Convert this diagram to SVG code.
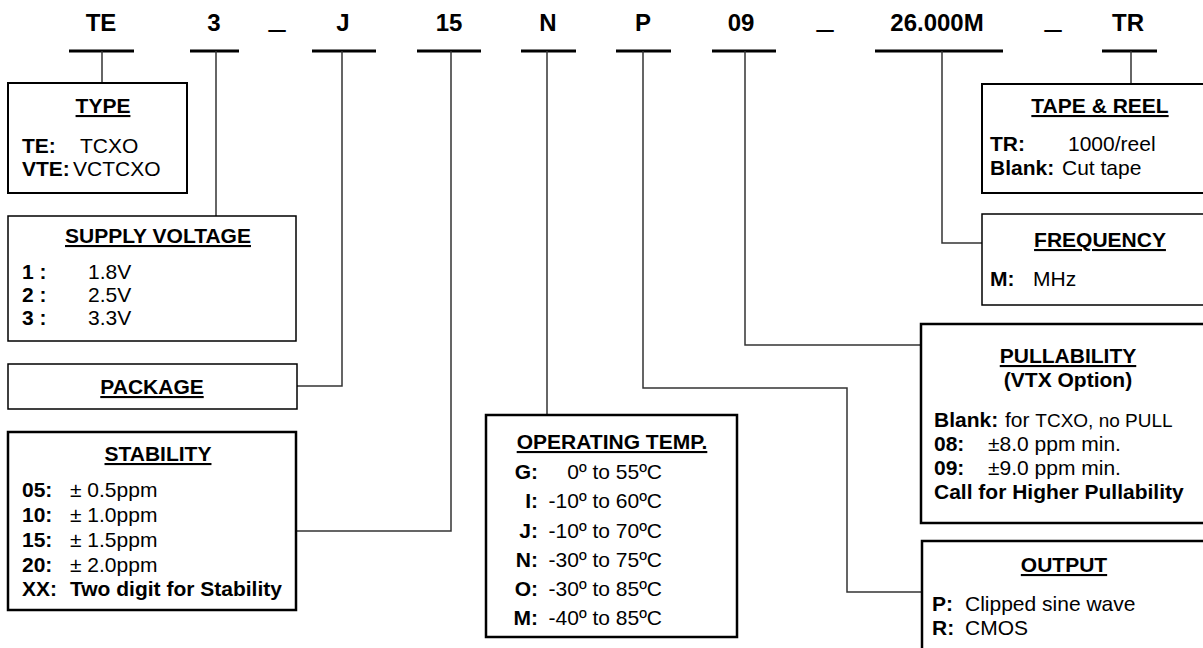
<svg xmlns="http://www.w3.org/2000/svg" width="1203" height="648" viewBox="0 0 1203 648">
<style>
text{font-family:"Liberation Sans",Arial,sans-serif;fill:#000}
.code{font-size:24px;font-weight:bold;text-anchor:middle}
.us{font-size:30px;text-anchor:middle}
.t{font-size:21px;font-weight:bold;text-anchor:middle;text-decoration:underline}
.b{font-size:21px;font-weight:bold}
.r{font-size:21px}
.e{text-anchor:end}
.bar{stroke:#000;stroke-width:3}
.box{fill:#fff;stroke:#000}
.w1{stroke-width:1.5}
.w2{stroke-width:2}
.w3{stroke-width:2.5}
.con{fill:none;stroke:#333;stroke-width:1.5}
</style>
<g id="code">
<text class="code" x="101" y="31">TE</text>
<text class="code" x="214" y="31">3</text>
<text class="us" x="277" y="26">_</text>
<text class="code" x="343" y="31">J</text>
<text class="code" x="449" y="31">15</text>
<text class="code" x="548" y="31">N</text>
<text class="code" x="643" y="31">P</text>
<text class="code" x="741" y="31">09</text>
<text class="us" x="825" y="26">_</text>
<text class="code" x="937" y="31">26.000M</text>
<text class="us" x="1053" y="26">_</text>
<text class="code" x="1128" y="31">TR</text>
<line class="bar" x1="69" y1="51" x2="134" y2="51"/>
<line class="bar" x1="190" y1="51" x2="239" y2="51"/>
<line class="bar" x1="312" y1="51" x2="376" y2="51"/>
<line class="bar" x1="417" y1="51" x2="481" y2="51"/>
<line class="bar" x1="521" y1="51" x2="576" y2="51"/>
<line class="bar" x1="616" y1="51" x2="671" y2="51"/>
<line class="bar" x1="712" y1="51" x2="776" y2="51"/>
<line class="bar" x1="875" y1="51" x2="1003" y2="51"/>
<line class="bar" x1="1102" y1="51" x2="1157" y2="51"/>
</g>
<g id="connectors">
<path class="con" d="M102 51V83"/>
<path class="con" d="M216 51V216"/>
<path class="con" d="M342 51V386H297"/>
<path class="con" d="M451 51V531H296"/>
<path class="con" d="M547 51V415"/>
<path class="con" d="M643 51V388H847V592H922"/>
<path class="con" d="M745 51V345H921"/>
<path class="con" d="M942 51V243H982"/>
<path class="con" d="M1131 51V84"/>
</g>
<g id="type">
<rect class="box w2" x="8" y="83" width="179" height="110"/>
<text class="t" x="103" y="113">TYPE</text>
<text class="b" x="22" y="153">TE:</text><text class="r" x="80" y="153">TCXO</text>
<text class="b" x="22" y="176">VTE:</text><text class="r" x="73" y="176">VCTCXO</text>
</g>
<g id="supply">
<rect class="box w1" x="8" y="216" width="288" height="125"/>
<text class="t" x="158" y="243">SUPPLY VOLTAGE</text>
<text class="b" x="22" y="279">1 :</text><text class="r" x="88" y="279">1.8V</text>
<text class="b" x="22" y="302">2 :</text><text class="r" x="88" y="302">2.5V</text>
<text class="b" x="22" y="325">3 :</text><text class="r" x="88" y="325">3.3V</text>
</g>
<g id="package">
<rect class="box w1" x="8" y="364" width="289" height="45"/>
<text class="t" x="152" y="394">PACKAGE</text>
</g>
<g id="stability">
<rect class="box w3" x="8" y="432" width="288" height="178"/>
<text class="t" x="158" y="461">STABILITY</text>
<text class="b" x="22" y="497">05:</text><text class="r" x="70" y="497">± 0.5ppm</text>
<text class="b" x="22" y="522">10:</text><text class="r" x="70" y="522">± 1.0ppm</text>
<text class="b" x="22" y="547">15:</text><text class="r" x="70" y="547">± 1.5ppm</text>
<text class="b" x="22" y="572">20:</text><text class="r" x="70" y="572">± 2.0ppm</text>
<text class="b" x="22" y="596">XX:</text><text class="b" x="70" y="596">Two digit for Stability</text>
</g>
<g id="optemp">
<rect class="box w3" x="486" y="415" width="251" height="222"/>
<text class="t" x="612" y="449">OPERATING TEMP.</text>
<text class="b e" x="538" y="479">G:</text><text class="r e" x="662" y="479">0º to 55ºC</text>
<text class="b e" x="538" y="508">I:</text><text class="r e" x="662" y="508">-10º to 60ºC</text>
<text class="b e" x="538" y="538">J:</text><text class="r e" x="662" y="538">-10º to 70ºC</text>
<text class="b e" x="538" y="567">N:</text><text class="r e" x="662" y="567">-30º to 75ºC</text>
<text class="b e" x="538" y="596">O:</text><text class="r e" x="662" y="596">-30º to 85ºC</text>
<text class="b e" x="538" y="625">M:</text><text class="r e" x="662" y="625">-40º to 85ºC</text>
</g>
<g id="tape">
<rect class="box w2" x="982" y="84" width="224" height="109"/>
<text class="t" x="1100" y="113">TAPE &amp; REEL</text>
<text class="b" x="990" y="151">TR:</text><text class="r" x="1068" y="151">1000/reel</text>
<text class="b" x="990" y="175">Blank:</text><text class="r" x="1062" y="175">Cut tape</text>
</g>
<g id="frequency">
<rect class="box w1" x="982" y="214" width="224" height="91"/>
<text class="t" x="1100" y="247">FREQUENCY</text>
<text class="b" x="990" y="286">M:</text><text class="r" x="1033" y="286">MHz</text>
</g>
<g id="pullability">
<rect class="box w3" x="921" y="324" width="285" height="199"/>
<text class="t" x="1068" y="363">PULLABILITY</text>
<text class="b" x="1068" y="387" text-anchor="middle">(VTX Option)</text>
<text class="b" x="934" y="427">Blank:</text><text class="r" x="1005" y="427">for <tspan font-size="19">TCXO, no PULL</tspan></text>
<text class="b" x="934" y="451">08:</text><text class="r" x="988" y="451">±8.0 ppm min.</text>
<text class="b" x="934" y="475">09:</text><text class="r" x="988" y="475">±9.0 ppm min.</text>
<text class="b" x="934" y="499">Call for Higher Pullability</text>
</g>
<g id="output">
<rect class="box w3" x="922" y="541" width="284" height="120"/>
<text class="t" x="1064" y="572">OUTPUT</text>
<text class="b" x="932" y="611">P:</text><text class="r" x="965" y="611">Clipped sine wave</text>
<text class="b" x="932" y="635">R:</text><text class="r" x="965" y="635">CMOS</text>
</g>
</svg>
